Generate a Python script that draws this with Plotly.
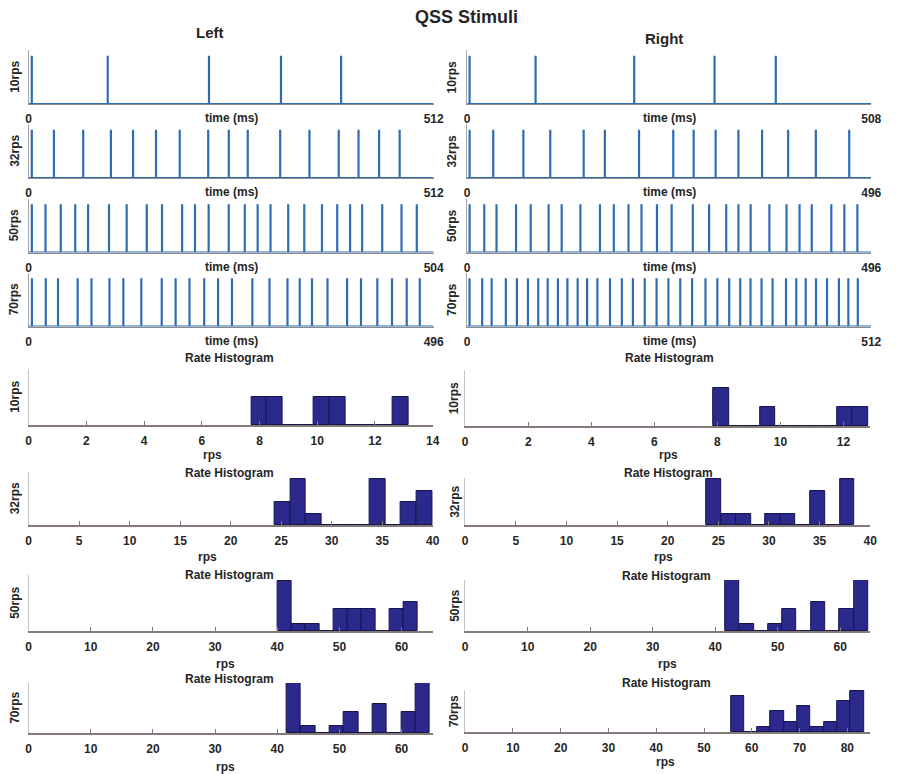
import plotly.graph_objects as go

W, H = 897, 774

# ---------------- data ----------------
rows = ["10rps", "32rps", "50rps", "70rps"]

left_spikes = [
    [4, 100, 228, 319, 395],
    [4, 32, 69, 104, 132, 161, 191, 227, 253, 277, 318, 355, 392, 417, 443, 469],
    [4, 21, 40, 58, 74, 100, 122, 147, 166, 191, 207, 224, 249, 269, 285, 301, 323, 343,
     365, 384, 400, 415, 440, 464, 483],
    [4, 21, 36, 60, 77, 99, 116, 138, 163, 180, 197, 215, 232, 249, 274, 295, 317, 332,
     347, 366, 390, 407, 427, 445, 463, 479],
]
left_dur = [512, 512, 504, 496]

right_spikes = [
    [3, 86, 210, 311, 388],
    [3, 32, 69, 102, 143, 169, 211, 253, 278, 305, 333, 362, 394, 428, 469],
    [3, 21, 36, 60, 78, 100, 116, 139, 163, 180, 198, 214, 233, 251, 277, 297, 318, 333,
     348, 371, 392, 408, 423, 447, 463, 479],
    [3, 19, 31, 49, 63, 77, 90, 102, 115, 127, 140, 152, 165, 181, 196, 210, 225, 240,
     255, 270, 285, 302, 317, 332, 346, 359, 373, 387, 404, 417, 429, 442, 456, 471,
     483, 495],
]
right_dur = [508, 496, 496, 512]

# rate histograms: 10 bins between data min and max
left_hist_min = [7.71, 24.33, 40.0, 41.49]
left_hist_max = [13.15, 40.0, 62.58, 64.58]
left_hist_counts = [
    [1, 1, 0, 0, 1, 1, 0, 0, 0, 1],
    [2, 4, 1, 0, 0, 0, 4, 0, 2, 3],
    [7, 1, 1, 0, 3, 3, 3, 0, 3, 4],
    [7, 1, 0, 1, 3, 0, 4, 0, 3, 7],
]
left_hist_xmax = [14, 40, 65, 65]
left_hist_ymax = [2.0, 4.65, 7.8, 7.0]
left_hist_ticks = [list(range(0, 15, 2)), list(range(0, 41, 5)),
                   list(range(0, 61, 10)), list(range(0, 61, 10))]

right_hist_min = [7.875, 23.8, 41.58, 55.6]
right_hist_max = [12.78, 38.45, 64.47, 83.45]
right_hist_counts = [
    [2, 0, 0, 1, 0, 0, 0, 0, 1, 1],
    [4, 1, 1, 0, 1, 1, 0, 3, 0, 4],
    [7, 1, 0, 1, 3, 0, 4, 0, 3, 7],
    [7, 0, 1, 4, 2, 5, 1, 2, 6, 8],
]
right_hist_xmax = [12.85, 40, 64.8, 84.8]
right_hist_ymax = [2.92, 4.1, 7.05, 8.1]
right_hist_ticks = [list(range(0, 13, 2)), list(range(0, 41, 5)),
                    list(range(0, 61, 10)), list(range(0, 81, 10))]

# ---------------- layout geometry (pixels) ----------------
SPIKE_X = {"L": (26, 437), "R": (471, 881)}
SPIKE_BASE = [104, 178, 252.5, 326.5]
SPIKE_H = 54
HIST_X = {"L": (26, 436), "R": (469, 880)}
HIST_TOP = {"L": [369, 472, 575, 683], "R": [370, 478, 580, 690]}
HIST_BASE = {"L": [425, 525, 631, 733], "R": [426, 525, 631, 732]}
HIST_TITLE = {"L": [(230, 358), (230, 473), (230, 575), (230, 679)],
              "R": [(676, 358), (675, 473), (673, 576), (673, 683)]}
HIST_XLAB = {"L": [(213, 455), (208, 557), (226, 664), (226, 767)],
             "R": [(675, 455), (670, 557), (674, 664), (672, 762)]}
YLAB_X = {"L": 12, "R": 456}

FONT = "Liberation Sans, Arial, sans-serif"
TXT = "#262626"
SPIKE_COLOR = "#2f6cb3"
BAR_COLOR = "#2b2a8c"
BAR_EDGE = "#16164e"
AXIS_GREY = "#8c8c8c"


def px(x):
    return x / W


def py(y):
    return 1 - y / H


fig = go.Figure()
layout = dict(
    width=W, height=H, margin=dict(l=0, r=0, t=0, b=0),
    paper_bgcolor="white", plot_bgcolor="white", showlegend=False,
    font=dict(family=FONT, color=TXT),
)
annotations = []


def add_text(text, x, y, size=12, angle=0):
    annotations.append(dict(
        text=text, x=px(x), y=py(y), xref="paper", yref="paper", showarrow=False,
        xanchor="center", yanchor="middle", textangle=angle,
        font=dict(family=FONT, size=size, color=TXT, weight="bold"),
    ))


idx = 0
# ---- spike panels ----
for side, spikes, durs in (("L", left_spikes, left_dur), ("R", right_spikes, right_dur)):
    x0, x1 = SPIKE_X[side]
    for r in range(4):
        idx += 1
        ax = "" if idx == 1 else str(idx)
        times, dur = spikes[r], durs[r]
        xs, ys = [0], [0]
        for t in times:
            xs += [t, t, t]
            ys += [0, 1, 0]
        xs.append(dur)
        ys.append(0)
        fig.add_trace(go.Scatter(x=xs, y=ys, mode="lines",
                                 line=dict(color=SPIKE_COLOR, width=2.2),
                                 xaxis="x" + ax, yaxis="y" + ax, hoverinfo="skip"))
        base = SPIKE_BASE[r]
        top = base - SPIKE_H
        layout["xaxis" + ax] = dict(
            domain=[px(x0), px(x1)], anchor="y" + ax, range=[0, dur],
            showline=True, linecolor=AXIS_GREY, linewidth=1, showgrid=False, zeroline=False,
            tickvals=[0, dur], ticktext=["0", str(dur)], ticks="inside", ticklen=4,
            tickcolor=AXIS_GREY, ticklabelstandoff=4, layer="below traces",
            tickfont=dict(family=FONT, size=12, color=TXT, weight="bold"),
        )
        layout["yaxis" + ax] = dict(
            domain=[py(base), py(top)], anchor="x" + ax, range=[0, 1.12],
            showline=True, linecolor="#a6a6a6", linewidth=1, showgrid=False, zeroline=False,
            showticklabels=False, ticks="", layer="below traces",
        )
        add_text("time (ms)", (x0 + x1) / 2, base + 14)
        add_text(rows[r], YLAB_X[side], (base + top) / 2, angle=-90)

# ---- histogram panels ----
for side, mins, maxs, counts, xmaxs, ymaxs, ticks in (
        ("L", left_hist_min, left_hist_max, left_hist_counts, left_hist_xmax, left_hist_ymax, left_hist_ticks),
        ("R", right_hist_min, right_hist_max, right_hist_counts, right_hist_xmax, right_hist_ymax, right_hist_ticks)):
    x0, x1 = HIST_X[side]
    for r in range(4):
        idx += 1
        ax = str(idx)
        n = len(counts[r])
        bw = (maxs[r] - mins[r]) / n
        centers = [mins[r] + bw * (k + 0.5) for k in range(n)]
        fig.add_trace(go.Bar(x=centers, y=counts[r], width=bw,
                             marker=dict(color=BAR_COLOR, line=dict(color=BAR_EDGE, width=1)),
                             xaxis="x" + ax, yaxis="y" + ax, hoverinfo="skip"))
        top, base = HIST_TOP[side][r], HIST_BASE[side][r]
        layout["xaxis" + ax] = dict(
            domain=[px(x0), px(x1)], anchor="y" + ax, range=[0, xmaxs[r]],
            showline=True, linecolor="#857a76", linewidth=1.5, showgrid=False, zeroline=False,
            tickvals=ticks[r], ticks="inside", ticklen=4, tickcolor="#857a76",
            ticklabelstandoff=4,
            tickfont=dict(family=FONT, size=12, color=TXT, weight="bold"),
        )
        layout["yaxis" + ax] = dict(
            domain=[py(base), py(top)], anchor="x" + ax, range=[0, ymaxs[r]],
            showline=True, linecolor="#c4c4c4", linewidth=1, showgrid=False, zeroline=False,
            showticklabels=False, ticks="",
        )
        tx, ty = HIST_TITLE[side][r]
        add_text("Rate Histogram", tx, ty, size=12)
        lx, ly = HIST_XLAB[side][r]
        add_text("rps", lx, ly, size=12)
        add_text(rows[r], YLAB_X[side] + (2 if side == "R" else 0), (top + base) / 2, angle=-90)

add_text("QSS Stimuli", 470, 17, size=18)
add_text("Left", 210, 33, size=15)
add_text("Right", 671, 38, size=15)

layout["annotations"] = annotations
layout["bargap"] = 0
fig.update_layout(**layout)
fig.write_html("out.html")
